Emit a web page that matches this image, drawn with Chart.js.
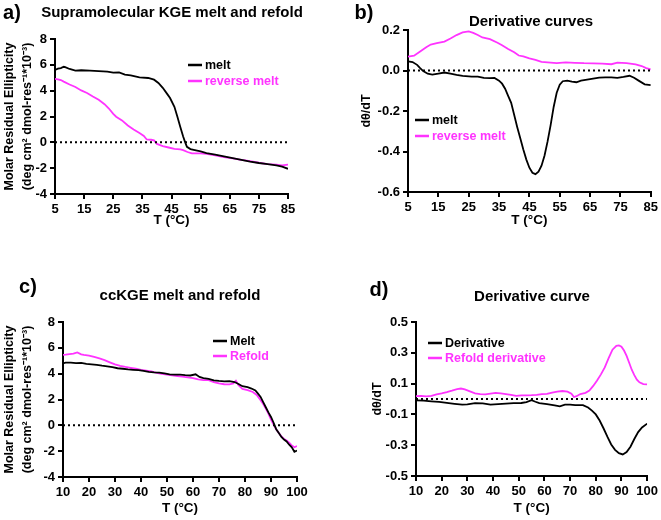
<!DOCTYPE html>
<html><head><meta charset="utf-8">
<script src="https://cdn.jsdelivr.net/npm/chart.js@4/dist/chart.umd.min.js"></script>
<style>
html,body{margin:0;padding:0;background:#fff;width:661px;height:520px;overflow:hidden}
canvas{position:absolute}
</style></head><body>
<canvas id="ca" width="330" height="260" style="left:0;top:0"></canvas>
<canvas id="cb" width="331" height="260" style="left:330px;top:0"></canvas>
<canvas id="cc" width="330" height="260" style="left:0;top:260px"></canvas>
<canvas id="cd" width="331" height="260" style="left:330px;top:260px"></canvas>
<script>
// ---------- DATA ----------
// Panel a: Supramolecular KGE melt and refold
const aMeltT = [5,6,7,8,8.5,10,12,14,17,20,23,25,27,29,31,34,37,39,40.5,42,43.5,44.5,46,47,48,49,49.7,50.3,51.5,53,55,57,60,63,66,69,72,75,78,81,83,85];
const aMeltY = [5.60,5.70,5.75,5.85,5.82,5.68,5.55,5.58,5.55,5.52,5.48,5.40,5.42,5.25,5.18,5.03,4.98,4.85,4.6,4.22,3.75,3.43,2.75,2.0,1.2,0.45,0.0,-0.35,-0.52,-0.6,-0.7,-0.83,-0.95,-1.08,-1.22,-1.35,-1.5,-1.6,-1.68,-1.78,-1.88,-2.05];
const aRevT = [5,6,7,8,10,12,14,16,18,20,22,23.5,25,26,28,30,32,34,35.5,36.5,38,39,40,42,44,46,48,49,50.5,52,55,57,60,63,66,69,72,75,78,81,83,85];
const aRevY = [4.92,4.88,4.82,4.7,4.48,4.28,4.02,3.82,3.55,3.3,2.95,2.62,2.2,1.98,1.7,1.3,1.0,0.72,0.5,0.22,0.2,0.15,-0.12,-0.3,-0.4,-0.5,-0.55,-0.6,-0.75,-0.85,-0.85,-0.9,-1.0,-1.15,-1.25,-1.35,-1.45,-1.58,-1.68,-1.72,-1.78,-1.72];
const aXTicks = [5,15,25,35,45,55,65,75,85];
const aYTicks = [-4,-2,0,2,4,6,8];
const aYLabels = ['-4','-2','0','2','4','6','8'];

// Panel b: Derivative curves
const bMeltT = [5,6.5,8,9,10,11.5,13,15,17,19,21,23,26,28,30,32,33.5,35,36,37,38,39,40,41,42,43,44,45,46,47,48,49,50,51,52,53,54,55,56,57.5,59,60.5,62,64,66,68,70,72,74,76,78,79.5,81,83,85];
const bMeltY = [0.045,0.042,0.028,0.012,-0.003,-0.016,-0.02,-0.015,-0.01,-0.016,-0.022,-0.027,-0.03,-0.03,-0.036,-0.038,-0.037,-0.05,-0.065,-0.09,-0.125,-0.16,-0.22,-0.28,-0.335,-0.39,-0.44,-0.48,-0.505,-0.512,-0.5,-0.47,-0.42,-0.35,-0.27,-0.18,-0.11,-0.07,-0.053,-0.05,-0.055,-0.058,-0.05,-0.045,-0.04,-0.035,-0.034,-0.034,-0.036,-0.032,-0.026,-0.036,-0.05,-0.068,-0.072];
const bRevT = [5,7,9,11,12.5,14.5,17,19,21,23,25,26.5,28,29.5,32,34.5,36,38,40,41.5,43,45,47,49,51,54,57,60,63,66,69,72,74,77,80,82,83.5,85];
const bRevY = [0.068,0.073,0.094,0.115,0.128,0.135,0.143,0.158,0.175,0.188,0.193,0.186,0.175,0.163,0.155,0.137,0.125,0.106,0.09,0.074,0.07,0.06,0.052,0.043,0.04,0.036,0.04,0.038,0.036,0.035,0.034,0.031,0.039,0.036,0.03,0.022,0.012,0.006];
const bXTicks = [5,15,25,35,45,55,65,75,85];
const bYTicks = [-0.6,-0.4,-0.2,0,0.2];
const bYLabels = ['-0.6','-0.4','-0.2','0.0','0.2'];

// Panel c: ccKGE melt and refold
const cMeltT = [10,11,13,15,17,19,21,23,25,27,29,31,33,35,37,39,41,43,45,47,49,51,53,55,57,59,61,62.5,64,66,68,70,72,74,76,77.5,79,81,82.5,84,85,86,87,88,89,90,91,92,93,94,95,96,97,98,99,100];
const cMeltY = [4.8,4.85,4.85,4.82,4.83,4.75,4.72,4.68,4.62,4.57,4.5,4.42,4.38,4.33,4.3,4.27,4.22,4.14,4.1,4.08,4.02,3.95,3.93,3.92,3.88,3.86,3.95,3.75,3.66,3.6,3.48,3.44,3.41,3.42,3.35,3.2,3.03,2.95,2.85,2.7,2.45,2.2,1.8,1.4,1.0,0.65,0.2,-0.3,-0.6,-0.9,-1.1,-1.25,-1.5,-1.7,-2.05,-1.95];
const cRefT = [10,11,12.5,14,15.5,17,18,20,22,24,26,28,30,32,34,36,38,40,42,44,46,48,50,52,54,56,58,60,62,64,66,68,70,72,74,75.5,76.5,77.5,79,81,83,84.5,86,87,88,89,90,91,92,93,94,95,96,97,98,99,100];
const cRefY = [5.45,5.47,5.52,5.55,5.65,5.5,5.45,5.4,5.3,5.18,5.05,4.88,4.72,4.6,4.52,4.45,4.38,4.3,4.24,4.18,4.06,3.98,3.92,3.86,3.82,3.77,3.72,3.65,3.56,3.5,3.5,3.35,3.25,3.18,3.17,3.25,3.45,3.1,2.82,2.72,2.58,2.35,1.95,1.65,1.3,0.9,0.45,0.05,-0.3,-0.6,-0.85,-1.05,-1.18,-1.35,-1.55,-1.7,-1.6];
const cXTicks = [10,20,30,40,50,60,70,80,90,100];
const cYTicks = [-4,-2,0,2,4,6,8];
const cYLabels = ['-4','-2','0','2','4','6','8'];

// Panel d: Derivative curve
const dDerT = [10,13,16,19,22,25,28,30,33,36,39,42,45,48,51,53,55,56.5,58,61,64,66,68,70,72,75,77,78.5,80,81.5,83,84.5,86,87.5,89,90.5,92,93.5,95,96.5,98,100];
const dDerY = [-0.009,-0.011,-0.015,-0.019,-0.025,-0.031,-0.036,-0.035,-0.027,-0.028,-0.036,-0.033,-0.03,-0.027,-0.026,-0.02,-0.008,-0.018,-0.027,-0.033,-0.042,-0.048,-0.037,-0.037,-0.04,-0.04,-0.055,-0.075,-0.1,-0.14,-0.19,-0.245,-0.295,-0.33,-0.352,-0.36,-0.345,-0.31,-0.26,-0.215,-0.185,-0.16];
const dRefT = [10,12,14,16,18,20,22,24,26,27.5,29,31,33,35,37,39,41,43,45,47,49,51,53,55,57,59,61,63,65,67,69,70.5,71.5,72.5,74,76,77.5,79,80.5,82,83.5,85,86.5,88,89,90,91,92,93,94,95,96,97,98.5,100];
const dRefY = [0.019,0.02,0.017,0.02,0.03,0.037,0.045,0.054,0.064,0.068,0.062,0.05,0.037,0.032,0.03,0.035,0.04,0.036,0.032,0.027,0.02,0.023,0.024,0.025,0.027,0.032,0.033,0.042,0.048,0.052,0.048,0.035,0.013,0.018,0.032,0.04,0.055,0.085,0.12,0.16,0.205,0.265,0.32,0.345,0.348,0.34,0.315,0.28,0.235,0.19,0.155,0.125,0.108,0.097,0.095];
const dXTicks = [10,20,30,40,50,60,70,80,90,100];
const dYTicks = [-0.5,-0.3,-0.1,0.1,0.3,0.5];
const dYLabels = ['-0.5','-0.3','-0.1','0.1','0.3','0.5'];

// ---------- STYLE / LAYOUT ----------
const FONT = "'Liberation Sans', Arial, Helvetica, sans-serif";
const BLACK = '#000000';
const MAGENTA = '#ff33ff';
const Y_TITLE_LONG = ['Molar Residual Ellipticity', '(deg cm\u00B2 dmol-res\u207B\u00B9*10\u207B\u00B3)'];

Chart.defaults.font.family = FONT;
Chart.defaults.font.weight = 'bold';
Chart.defaults.color = '#000';

const panelTextPlugin = {
  id: 'panelText',
  afterDraw(chart, args, o) {
    const ctx = chart.ctx;
    ctx.save();
    ctx.textBaseline = 'middle';
    ctx.textAlign = 'center';
    ctx.fillStyle = '#000';
    ctx.font = 'bold 20px ' + FONT;
    ctx.fillText(o.letter, o.letterX, o.letterY);
    ctx.font = 'bold 15px ' + FONT;
    ctx.fillText(o.title, o.titleX, o.titleY);
    // legend
    ctx.textAlign = 'left';
    ctx.font = 'bold 12.5px ' + FONT;
    const ds = chart.data.datasets.filter(d => d.inLegend);
    ds.forEach((d, i) => {
      const y = o.legY + i * o.legDy;
      ctx.strokeStyle = d.borderColor;
      ctx.lineWidth = 2.5;
      ctx.beginPath();
      ctx.moveTo(o.legX, y);
      ctx.lineTo(o.legX + 14, y);
      ctx.stroke();
      ctx.fillStyle = d.borderColor;
      ctx.fillText(d.label, o.legX + 17, y + 0.5);
    });
    ctx.restore();
  }
};

function pts(xs, ys) { return xs.map((x, i) => ({ x: x, y: ys[i] })); }

function makePanel(id, p) {
  const cv = document.getElementById(id);
  const W = cv.width, H = cv.height;
  const axisCommon = {
    grid: { display: true, drawOnChartArea: false, drawTicks: true, tickLength: 5, color: '#000', lineWidth: 2 },
    border: { display: true, color: '#000', width: 2 },
  };
  new Chart(cv, {
    type: 'line',
    data: {
      datasets: [
        { label: 'zero', data: [{ x: p.xTicks[0], y: 0 }, { x: p.xTicks[p.xTicks.length - 1], y: 0 }],
          borderColor: '#000', borderWidth: 2, borderDash: [2, 3], pointRadius: 0, inLegend: false },
        { label: p.labels[0], data: pts(p.t1, p.y1), borderColor: BLACK, borderWidth: 1.8, pointRadius: 0, inLegend: true },
        { label: p.labels[1], data: pts(p.t2, p.y2), borderColor: MAGENTA, borderWidth: 1.8, pointRadius: 0, inLegend: true },
      ]
    },
    options: {
      responsive: false, animation: false, devicePixelRatio: 1,
      layout: { padding: { left: 0, top: p.area.top, right: W - p.area.right, bottom: 0 } },
      elements: { line: { tension: 0 } },
      plugins: { legend: { display: false }, tooltip: { enabled: false }, panelText: p.text },
      scales: {
        x: Object.assign({}, axisCommon, {
          type: 'linear', min: p.xTicks[0], max: p.xTicks[p.xTicks.length - 1],
          afterBuildTicks: s => { s.ticks = p.xTicks.map(v => ({ value: v })); },
          afterFit: s => { s.height = H - p.area.bottom; },
          ticks: { autoSkip: false, maxRotation: 0, padding: 3, font: { size: 13, weight: 'bold' }, callback: (v) => String(v) },
          title: { display: true, text: 'T (\u00B0C)', font: { size: 13.5, weight: 'bold' }, padding: { top: 0, bottom: p.xTitlePad } }
        }),
        y: Object.assign({}, axisCommon, {
          type: 'linear', min: p.yTicks[0], max: p.yTicks[p.yTicks.length - 1],
          afterBuildTicks: s => { s.ticks = p.yTicks.map(v => ({ value: v })); },
          afterFit: s => { s.width = p.area.left; },
          ticks: { padding: 3, font: { size: 13, weight: 'bold' }, callback: (v, i) => p.yLabels[i] },
          title: { display: true, text: p.yTitle, font: { size: 12.5, weight: 'bold', lineHeight: p.yTitleLH }, padding: { top: p.yTitlePad, bottom: 0 } }
        })
      }
    },
    plugins: [panelTextPlugin]
  });
}

makePanel('ca', {
  t1: aMeltT, y1: aMeltY, t2: aRevT, y2: aRevY, labels: ['melt', 'reverse melt'],
  xTicks: aXTicks, yTicks: aYTicks, yLabels: aYLabels,
  yTitle: Y_TITLE_LONG, yTitleLH: 1.4, yTitlePad: 1.25, xTitlePad: 32,
  area: { left: 55, right: 288, top: 39, bottom: 194 },
  text: { letter: 'a)', letterX: 12, letterY: 13, title: 'Supramolecular KGE melt and refold', titleX: 172, titleY: 13,
          legX: 188, legY: 65, legDy: 16 }
});
makePanel('cb', {
  t1: bMeltT, y1: bMeltY, t2: bRevT, y2: bRevY, labels: ['melt', 'reverse melt'],
  xTicks: bXTicks, yTicks: bYTicks, yLabels: bYLabels,
  yTitle: 'd\u03B8/dT', yTitleLH: 1.2, yTitlePad: 29.5, xTitlePad: 32,
  area: { left: 78, right: 322, top: 30, bottom: 192 },
  text: { letter: 'b)', letterX: 34, letterY: 13, title: 'Derivative curves', titleX: 201, titleY: 22,
          legX: 85, legY: 120, legDy: 16 }
});
makePanel('cc', {
  t1: cMeltT, y1: cMeltY, t2: cRefT, y2: cRefY, labels: ['Melt', 'Refold'],
  xTicks: cXTicks, yTicks: cYTicks, yLabels: cYLabels,
  yTitle: Y_TITLE_LONG, yTitleLH: 1.4, yTitlePad: 1.25, xTitlePad: 4,
  area: { left: 63, right: 297, top: 62, bottom: 217 },
  text: { letter: 'c)', letterX: 28, letterY: 27, title: 'ccKGE melt and refold', titleX: 180, titleY: 36,
          legX: 213, legY: 81, legDy: 15 }
});
makePanel('cd', {
  t1: dDerT, y1: dDerY, t2: dRefT, y2: dRefY, labels: ['Derivative', 'Refold derivative'],
  xTicks: dXTicks, yTicks: dYTicks, yLabels: dYLabels,
  yTitle: 'd\u03B8/dT', yTitleLH: 1.2, yTitlePad: 40.5, xTitlePad: 4,
  area: { left: 86, right: 319, top: 62, bottom: 216 },
  text: { letter: 'd)', letterX: 49, letterY: 30, title: 'Derivative curve', titleX: 202, titleY: 37,
          legX: 98, legY: 83, legDy: 15 }
});
</script>
</body></html>
